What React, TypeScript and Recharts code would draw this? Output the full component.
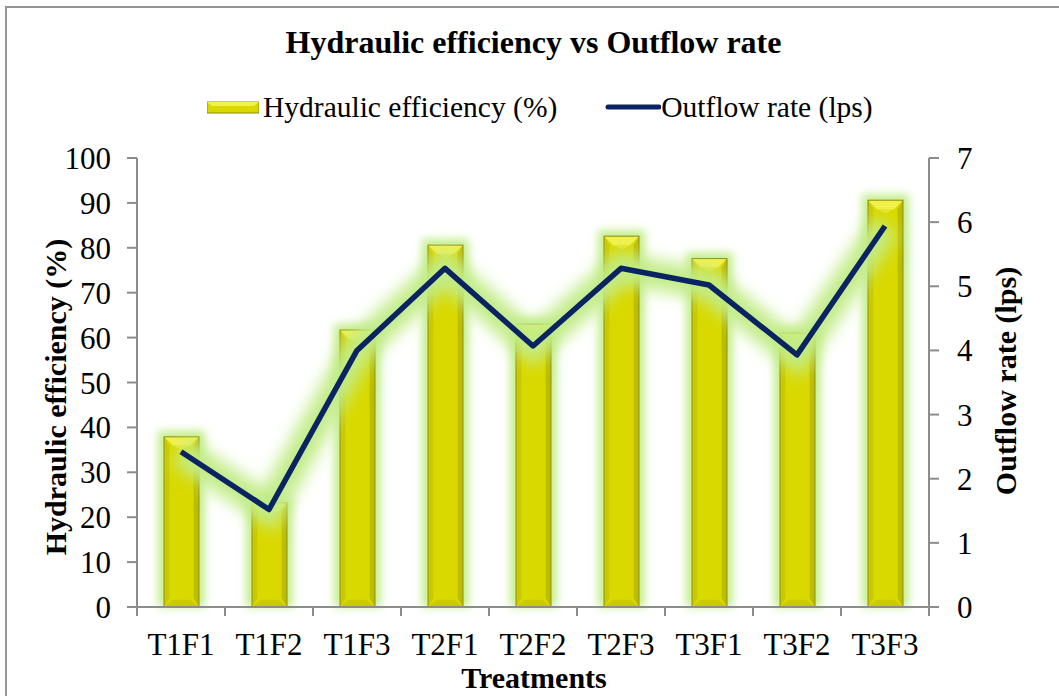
import { Bar, ComposedChart, Legend, Line, XAxis, YAxis, Label } from 'recharts'

const treatments = ['T1F1', 'T1F2', 'T1F3', 'T2F1', 'T2F2', 'T2F3', 'T3F1', 'T3F2', 'T3F3']
const efficiency = [37.9, 23.2, 61.7, 80.6, 63, 82.6, 77.6, 61, 90.6]
const outflow = [2.42, 1.52, 4.0, 5.28, 4.07, 5.28, 5.02, 3.93, 5.94]

const effTicks = [0, 10, 20, 30, 40, 50, 60, 70, 80, 90, 100]
const flowTicks = [0, 1, 2, 3, 4, 5, 6, 7]

const data = treatments.map((name, i) => ({
  name,
  efficiency: efficiency[i],
  outflow: outflow[i],
}))

const FONT = '"Liberation Serif", "Times New Roman", serif'
const AXIS_GRAY = '#8c8c8c'
const NAVY = '#0a2463'
const PLOT_BOTTOM = 607
const HALF_BAND = (929 - 137) / 18

// bevelled yellow bar with a soft green glow
const BevelBar = (props: any) => {
  const { x, y, width: w, height: h } = props
  if (!h || h <= 0) return null
  const b = Math.min(9, w / 2, h / 2)
  return (
    <g>
      <rect x={x - 6} y={y - 6} width={w + 12} height={h + 6} fill="#c4ee8e" filter="url(#barGlow)" />
      <rect x={x} y={y} width={w} height={h} fill="#d9d900" />
      <polygon points={`${x},${y} ${x + w},${y} ${x + w - b},${y + b} ${x + b},${y + b}`} fill="#f1f14c" />
      <polygon points={`${x + b},${y + b} ${x + w / 2},${y + b + 4} ${x + w - b},${y + b}`} fill="#e6e62a" />
      <polygon points={`${x},${y} ${x + b * 0.6},${y + b} ${x + b * 0.6},${y + h - b} ${x},${y + h}`} fill="#c9c900" />
      <polygon points={`${x + w},${y} ${x + w - b * 0.6},${y + b} ${x + w - b * 0.6},${y + h - b} ${x + w},${y + h}`} fill="#bdbd00" />
      <polygon points={`${x},${y + h} ${x + w},${y + h} ${x + w - b},${y + h - b * 0.8} ${x + b},${y + h - b * 0.8}`} fill="#caca00" />
      <rect x={x} y={y} width={w} height={h} fill="none" stroke="#8d8d1a" strokeWidth={1} />
    </g>
  )
}

const CategoryTick = (props: any) => {
  const { x, y, payload, index, visibleTicksCount } = props
  const last = index === visibleTicksCount - 1
  return (
    <g>
      <line x1={x - HALF_BAND} x2={x - HALF_BAND} y1={PLOT_BOTTOM} y2={PLOT_BOTTOM + 9} stroke={AXIS_GRAY} strokeWidth={2} />
      {last && (
        <line x1={x + HALF_BAND} x2={x + HALF_BAND} y1={PLOT_BOTTOM} y2={PLOT_BOTTOM + 9} stroke={AXIS_GRAY} strokeWidth={2} />
      )}
      <text x={x} y={y} dy="0.71em" textAnchor="middle" fontFamily={FONT} fontSize={31} fill="#000">
        {payload.value}
      </text>
    </g>
  )
}

const LegendContent = () => (
  <div
    style={{
      display: 'flex',
      alignItems: 'center',
      fontFamily: FONT,
      fontSize: 29.5,
      color: '#000',
      lineHeight: '32px',
      whiteSpace: 'nowrap',
    }}
  >
    <svg width={52} height={14} style={{ marginRight: 4 }}>
      <rect x={0} y={2} width={52} height={11} fill="#d9d900" stroke="#8d8d1a" />
      <polygon points="0,2 52,2 47,6 5,6" fill="#f1f14c" />
    </svg>
    <span>Hydraulic efficiency (%)</span>
    <svg width={56} height={10} style={{ marginLeft: 48, marginRight: 0 }}>
      <line x1={3} x2={54} y1={5} y2={5} stroke={NAVY} strokeWidth={5} strokeLinecap="round" />
    </svg>
    <span>Outflow rate (lps)</span>
  </div>
)

const axisTick = { fontFamily: FONT, fontSize: 31, fill: '#000' }

export default function App() {
  return (
    <div style={{ position: 'absolute', left: 0, top: 0, width: 1059, height: 696, overflow: 'hidden', background: '#fff' }}>
      <svg width={0} height={0} style={{ position: 'absolute' }}>
        <defs>
          <filter id="barGlow" x="-50%" y="-20%" width="200%" height="140%">
            <feGaussianBlur stdDeviation="4.5" />
          </filter>
          <filter id="lineGlow" x="-10%" y="-30%" width="120%" height="160%">
            <feGaussianBlur stdDeviation="8" />
          </filter>
        </defs>
      </svg>
      <div
        style={{
          position: 'absolute',
          left: 5,
          top: 6,
          width: 1100,
          height: 800,
          border: '2px solid #969696',
          boxSizing: 'border-box',
        }}
      />
      <div
        style={{
          position: 'absolute',
          left: 0,
          top: 24,
          width: 1067,
          textAlign: 'center',
          fontFamily: FONT,
          fontWeight: 'bold',
          fontSize: 32,
          color: '#000',
        }}
      >
        Hydraulic efficiency vs Outflow rate
      </div>
      <div style={{ position: 'absolute', left: 0, top: 0 }}>
        <ComposedChart
          width={1059}
          height={696}
          data={data}
          margin={{ top: 158, right: 0, left: 0, bottom: 0 }}
        >
          <XAxis
            dataKey="name"
            height={89}
            tick={<CategoryTick />}
            tickLine={false}
            tickSize={10}
            tickMargin={16}
            interval={0}
            axisLine={{ stroke: AXIS_GRAY, strokeWidth: 2 }}
          >
            <Label
              content={() => (
                <text x={534} y={688} textAnchor="middle" fontFamily={FONT} fontWeight="bold" fontSize={30} fill="#000">
                  Treatments
                </text>
              )}
            />
          </XAxis>
          <YAxis
            yAxisId="eff"
            width={137}
            domain={[0, 100]}
            ticks={effTicks}
            interval={0}
            tick={axisTick}
            tickSize={10}
            tickMargin={16}
            tickLine={{ stroke: AXIS_GRAY, strokeWidth: 2 }}
            axisLine={{ stroke: AXIS_GRAY, strokeWidth: 2 }}
          >
            <Label
              content={() => (
                <text
                  transform="translate(55, 397) rotate(-90)"
                  textAnchor="middle"
                  dominantBaseline="central"
                  fontFamily={FONT}
                  fontWeight="bold"
                  fontSize={30}
                  fill="#000"
                >
                  Hydraulic efficiency (%)
                </text>
              )}
            />
          </YAxis>
          <YAxis
            yAxisId="flow"
            orientation="right"
            width={130}
            domain={[0, 7]}
            ticks={flowTicks}
            interval={0}
            tick={{ ...axisTick, textAnchor: 'start' }}
            tickSize={10}
            tickMargin={18}
            tickLine={{ stroke: AXIS_GRAY, strokeWidth: 2 }}
            axisLine={{ stroke: AXIS_GRAY, strokeWidth: 2 }}
          >
            <Label
              content={() => (
                <text
                  transform="translate(1005, 381) rotate(-90)"
                  textAnchor="middle"
                  dominantBaseline="central"
                  fontFamily={FONT}
                  fontWeight="bold"
                  fontSize={30}
                  fill="#000"
                >
                  Outflow rate (lps)
                </text>
              )}
            />
          </YAxis>
          <Legend
            layout="horizontal"
            verticalAlign="middle"
            align="center"
            content={<LegendContent />}
            wrapperStyle={{ top: 91, left: 207, width: 'auto' }}
          />
          <Bar
            yAxisId="eff"
            dataKey="efficiency"
            name="Hydraulic efficiency (%)"
            barSize={35}
            shape={<BevelBar />}
            isAnimationActive={false}
          />
          <Line
            yAxisId="flow"
            dataKey="outflow"
            name="glow"
            legendType="none"
            type="linear"
            stroke="#c2ec88"
            strokeOpacity={1}
            strokeWidth={30}
            filter="url(#lineGlow)"
            dot={false}
            activeDot={false}
            isAnimationActive={false}
          />
          <Line
            yAxisId="flow"
            dataKey="outflow"
            name="Outflow rate (lps)"
            type="linear"
            stroke={NAVY}
            strokeWidth={5.5}
            strokeLinejoin="round"
            dot={false}
            activeDot={false}
            isAnimationActive={false}
          />
        </ComposedChart>
      </div>
    </div>
  )
}
